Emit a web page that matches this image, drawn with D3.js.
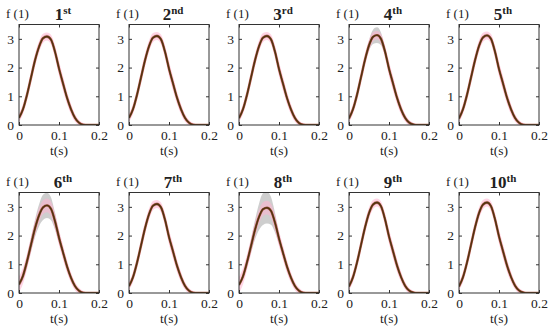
<!DOCTYPE html>
<html>
<head>
<meta charset="utf-8">
<script src="https://cdnjs.cloudflare.com/ajax/libs/d3/7.8.5/d3.min.js"></script>
<style>
body { margin: 0; background: white; }
text { font-family: "Liberation Serif", "Times New Roman", serif; fill: #222; }
</style>
</head>
<body>
<script>
// time grid (s) shared by all panels
var tValues = [0, 0.01, 0.02, 0.03, 0.04, 0.05, 0.06, 0.07, 0.08, 0.09, 0.1,
	0.11, 0.12, 0.13, 0.14, 0.15, 0.16, 0.17, 0.18, 0.19, 0.2];

var panelTitles = [["1", "st"], ["2", "nd"], ["3", "rd"], ["4", "th"], ["5", "th"],
	["6", "th"], ["7", "th"], ["8", "th"], ["9", "th"], ["10", "th"]];

var xTicks = [0, 0.1, 0.2];
var xTickLabels = ["0", "0.1", "0.2"];
var yTicks = [0, 1, 2, 3];
var yTickLabels = ["0", "1", "2", "3"];

// mean curve for each panel
var mean1 = [0.25, 0.55, 1.05, 1.65, 2.25, 2.72, 3.02, 3.08, 2.97, 2.55, 1.97, 1.45, 0.95, 0.55, 0.25, 0.08, 0.01, 0, 0, 0, 0];
var mean2 = [0.25, 0.55, 1.05, 1.65, 2.25, 2.74, 3.04, 3.1, 2.98, 2.55, 1.96, 1.45, 0.95, 0.55, 0.25, 0.08, 0.01, 0, 0, 0, 0];
var mean3 = [0.24, 0.55, 1.05, 1.65, 2.25, 2.74, 3.04, 3.1, 2.98, 2.55, 1.95, 1.44, 0.94, 0.54, 0.24, 0.07, 0.01, 0, 0, 0, 0];
var mean4 = [0.23, 0.55, 1.05, 1.66, 2.27, 2.77, 3.07, 3.13, 3.0, 2.56, 1.96, 1.45, 0.95, 0.55, 0.26, 0.09, 0.02, 0, 0, 0, 0];
var mean5 = [0.23, 0.55, 1.05, 1.65, 2.25, 2.75, 3.05, 3.12, 3.0, 2.55, 1.95, 1.45, 0.95, 0.55, 0.25, 0.08, 0.01, 0, 0, 0, 0];
var mean6 = [0.3, 0.6, 1.1, 1.68, 2.25, 2.7, 2.98, 3.05, 2.93, 2.5, 1.93, 1.42, 0.93, 0.53, 0.24, 0.08, 0.01, 0, 0, 0, 0];
var mean7 = [0.24, 0.55, 1.05, 1.65, 2.25, 2.74, 3.04, 3.1, 2.98, 2.55, 1.95, 1.45, 0.95, 0.55, 0.25, 0.08, 0.01, 0, 0, 0, 0];
var mean8 = [0.28, 0.58, 1.07, 1.63, 2.2, 2.65, 2.92, 2.97, 2.86, 2.45, 1.9, 1.4, 0.92, 0.53, 0.24, 0.08, 0.01, 0, 0, 0, 0];
var mean9 = [0.23, 0.55, 1.06, 1.67, 2.28, 2.78, 3.08, 3.15, 3.02, 2.57, 1.97, 1.46, 0.96, 0.56, 0.26, 0.09, 0.02, 0, 0, 0, 0];
var mean10 = [0.23, 0.55, 1.06, 1.67, 2.28, 2.78, 3.08, 3.15, 3.02, 2.57, 1.97, 1.46, 0.96, 0.56, 0.26, 0.09, 0.02, 0, 0, 0, 0];

// half width of the pink band
var pinkNarrow = [0.14, 0.17, 0.2, 0.22, 0.22, 0.2, 0.16, 0.14, 0.17, 0.22, 0.25, 0.25, 0.22, 0.18, 0.13, 0.09, 0.06, 0.03, 0.01, 0, 0];
var pinkWide = [0.28, 0.28, 0.27, 0.27, 0.26, 0.25, 0.24, 0.24, 0.25, 0.27, 0.27, 0.25, 0.22, 0.18, 0.14, 0.1, 0.06, 0.03, 0.01, 0, 0];

// half width of the grey band
var greyThin = [0.04, 0.04, 0.05, 0.05, 0.06, 0.06, 0.07, 0.07, 0.07, 0.06, 0.06, 0.06, 0.05, 0.05, 0.04, 0.03, 0.02, 0.01, 0, 0, 0];
var grey4 = [0.03, 0.04, 0.06, 0.08, 0.12, 0.18, 0.25, 0.27, 0.22, 0.14, 0.08, 0.08, 0.08, 0.08, 0.08, 0.07, 0.05, 0.03, 0.01, 0, 0];
var grey6 = [0.1, 0.15, 0.2, 0.25, 0.3, 0.38, 0.44, 0.44, 0.4, 0.3, 0.2, 0.12, 0.08, 0.05, 0.03, 0.02, 0.01, 0, 0, 0, 0];
var grey8 = [0.05, 0.1, 0.16, 0.24, 0.34, 0.46, 0.55, 0.55, 0.48, 0.34, 0.2, 0.12, 0.08, 0.05, 0.03, 0.02, 0, 0, 0, 0, 0];

var panelMeans = [mean1, mean2, mean3, mean4, mean5, mean6, mean7, mean8, mean9, mean10];
var panelPink = [pinkNarrow, pinkNarrow, pinkNarrow, pinkNarrow, pinkNarrow, pinkWide, pinkNarrow, pinkWide, pinkNarrow, pinkNarrow];
var panelGrey = [greyThin, greyThin, greyThin, grey4, greyThin, grey6, greyThin, grey8, greyThin, greyThin];

var chart = { width: 550, height: 327 };
var box = { left: 19, step: 110, width: 80, tops: [24.5, 192.5], height: 100.5 };
var serif = "'Liberation Serif', 'Times New Roman', serif";

var svg = d3.select("body")
	.append("svg")
	.attr("width", chart.width)
	.attr("height", chart.height);

var x = d3.scaleLinear().domain([0, 0.2]).range([0, box.width]);
var y = d3.scaleLinear().domain([0, 3.5]).range([box.height, 0]);

function styleAxis(sel){
	sel.attr("font-family", null).attr("font-size", null);
	sel.select(".domain").remove();
	sel.selectAll("line").attr("stroke", "#333");
	sel.selectAll("text")
		.style("font-family", serif)
		.style("font-size", "13.5px")
		.attr("fill", "#222");
}

function drawPanel(i){
	var col = i % 5;
	var row = Math.floor(i / 5);
	var x0 = box.left + col * box.step;
	var y0 = box.tops[row];
	var mean = panelMeans[i];
	var pink = panelPink[i];
	var grey = panelGrey[i];

	var g = svg.append("g").attr("transform", "translate(" + x0 + "," + y0 + ")");

	svg.append("clipPath").attr("id", "clip" + i)
		.append("rect").attr("width", box.width).attr("height", box.height);

	var plot = g.append("g").attr("clip-path", "url(#clip" + i + ")");

	var band = function(spread){
		return d3.area()
			.x(function(d, k){ return x(tValues[k]); })
			.y0(function(d, k){ return y(Math.max(0, d - spread[k])); })
			.y1(function(d, k){ return y(d + spread[k]); })
			.curve(d3.curveMonotoneX);
	};

	plot.append("path").datum(mean)
		.attr("d", band(grey))
		.attr("fill", "#c2c2c2")
		.attr("fill-opacity", 0.8);

	plot.append("path").datum(mean)
		.attr("d", band(pink))
		.attr("fill", "#ffb3cf")
		.attr("fill-opacity", 0.55);

	var line = d3.line()
		.x(function(d, k){ return x(tValues[k]); })
		.y(function(d){ return y(d); })
		.curve(d3.curveMonotoneX);

	plot.append("path").datum(mean)
		.attr("d", line)
		.attr("fill", "none")
		.attr("stroke", "#9a3f25")
		.attr("stroke-opacity", 0.85)
		.attr("stroke-width", 2.4);

	plot.append("path").datum(mean)
		.attr("d", line)
		.attr("fill", "none")
		.attr("stroke", "#4e3410")
		.attr("stroke-width", 1.4);

	// box and inner ticks
	g.append("rect")
		.attr("width", box.width)
		.attr("height", box.height)
		.attr("fill", "none")
		.attr("stroke", "#333")
		.attr("stroke-width", 1);

	g.append("g")
		.attr("transform", "translate(0," + box.height + ")")
		.call(d3.axisBottom(x).tickValues(xTicks).tickSizeInner(-3).tickSizeOuter(0)
			.tickFormat(function(d, k){ return xTickLabels[k]; }))
		.call(styleAxis)
		.selectAll("text").attr("y", 2).attr("dy", "0.95em");

	g.append("g")
		.call(d3.axisTop(x).tickValues(xTicks).tickSizeInner(-3).tickSizeOuter(0).tickFormat(""))
		.call(styleAxis);

	g.append("g")
		.call(d3.axisLeft(y).tickValues(yTicks).tickSizeInner(-3).tickSizeOuter(0)
			.tickFormat(function(d, k){ return yTickLabels[k]; }))
		.call(styleAxis)
		.selectAll("text").attr("x", -5);

	g.append("g")
		.attr("transform", "translate(" + box.width + ",0)")
		.call(d3.axisRight(y).tickValues(yTicks).tickSizeInner(-3).tickSizeOuter(0).tickFormat(""))
		.call(styleAxis);

	// labels
	g.append("text")
		.attr("x", -13)
		.attr("y", -7)
		.style("font-size", "13px")
		.text("f (1)");

	var title = g.append("text")
		.attr("x", box.width / 2 + 4)
		.attr("y", -5)
		.attr("text-anchor", "middle")
		.attr("font-weight", "bold");
	title.append("tspan").style("font-size", "17px").text(panelTitles[i][0]);
	title.append("tspan").style("font-size", "11px").attr("dy", -6).text(panelTitles[i][1]);

	g.append("text")
		.attr("x", box.width / 2)
		.attr("y", box.height + 30)
		.attr("text-anchor", "middle")
		.style("font-size", "13.5px")
		.text("t(s)");
}

for (var i = 0; i < panelMeans.length; i++){
	drawPanel(i);
}
</script>
</body>
</html>
